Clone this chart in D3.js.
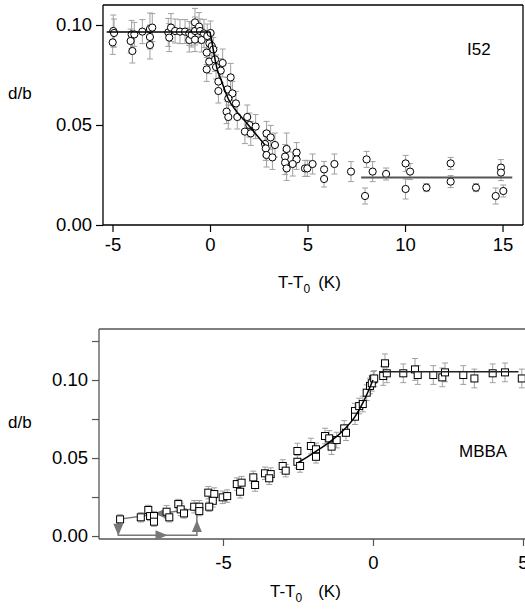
<!DOCTYPE html>
<html><head><meta charset="utf-8">
<script src="https://cdn.jsdelivr.net/npm/d3@7"></script>
<style>
body{margin:0;background:#fff;overflow:hidden}
svg{display:block}
text{font-family:"Liberation Sans",Arial,Helvetica,sans-serif;fill:#000}
</style>
</head><body>
<svg id="chart" width="525" height="610"></svg>
<script>
// ---------- Panel 1: I52 ----------
const topT = [-4.96,-4.92,-4.99,-4.02,-3.88,-4.07,-3.98,-3.47,-3.08,-2.96,-3.08,-3.08,-2.14,-2.0,-2.09,-1.79,-1.54,-1.28,-1.06,-1.06,-0.94,-0.77,-0.77,-0.77,-0.56,-0.51,-0.43,
  -0.31,-0.14,0.03,-0.03,0.09,-0.17,0.17,-0.04,-0.17,0.26,0.31,0.65,0.55,0.43,0.43,1.06,0.89,1.15,0.94,1.33,0.85,0.94,1.4,1.91,2.02,2.34,1.79,2.09,2.9,3.11,3.33,2.82,2.86,2.9,3.2,3.93,3.85,3.85,3.93,4.44,4.44,4.24,4.87,4.99,5.26,
  5.85,5.85,6.38,7.23,7.95,8.03,8.34,9.03,10.03,10.03,10.26,11.1,12.34,12.34,13.64,14.65,14.92,14.92,15.04];
const topD = [0.097,0.096,0.0913,0.0953,0.0953,0.092,0.087,0.0967,0.098,0.0987,0.094,0.090,0.0963,0.0987,0.0937,0.097,0.0967,0.0967,0.0958,0.0925,0.095,0.1013,0.097,0.0927,0.0992,0.097,0.0925,
  0.0958,0.0945,0.096,0.0908,0.0895,0.0862,0.0878,0.0817,0.0778,0.0828,0.079,0.081,0.0772,0.0717,0.067,0.0738,0.0678,0.0658,0.0633,0.0608,0.0567,0.054,0.054,0.054,0.050,0.0492,0.0467,0.0458,0.0458,0.0438,0.040,0.0405,0.0383,0.035,0.0338,0.038,0.0342,0.0312,0.0283,0.0362,0.0328,0.0305,0.0283,0.0283,0.0305,
  0.0278,0.023,0.0305,0.0267,0.0145,0.0328,0.0267,0.0255,0.0308,0.018,0.0267,0.0187,0.0308,0.0217,0.0187,0.0145,0.0287,0.0262,0.017];
const topErr = [0.008,0.007,0.006,0.007,0.006,0.006,0.006,0.006,0.008,0.007,0.006,0.007,0.007,0.007,0.007,0.006,0.006,0.006,0.006,0.006,0.006,0.007,0.007,0.006,0.007,0.006,0.006,
  0.007,0.006,0.006,0.006,0.006,0.006,0.006,0.006,0.006,0.006,0.006,0.007,0.006,0.006,0.006,0.007,0.006,0.006,0.006,0.006,0.006,0.006,0.006,0.006,0.006,0.006,0.006,0.006,0.006,0.006,0.006,0.006,0.006,0.006,0.006,0.008,0.006,0.006,0.006,0.005,0.005,0.006,0.004,0.004,0.005,
  0.004,0.004,0.005,0.005,0.004,0.004,0.005,0.003,0.004,0.005,0.004,0.002,0.003,0.003,0.002,0.004,0.004,0.004,0.003];
// fit lines
const topFlatT = [-5.3, 0.0];
const topFlatD = [0.0965, 0.0965];
const topFitT = [0.0,0.17,0.34,0.6,0.94,1.37,1.88,2.39,2.82];
const topFitD = [0.0967,0.0875,0.079,0.0717,0.063,0.0567,0.051,0.045,0.040];
const topTailT = [7.75, 15.5];
const topTailD = [0.0237, 0.0237];
const topXTicks = [-5,0,5,10,15];
const topYTicks = [0,0.05,0.10];

// ---------- Panel 2: MBBA ----------
const botT = [-8.43,-7.74,-7.49,-7.43,-7.3,-7.3,-6.88,-6.79,-6.49,-6.41,-6.3,-5.96,-5.79,-5.79,-5.49,-5.29,-5.34,-5.46,-5.01,-4.86,-4.54,-4.38,-4.43,
  -3.99,-3.93,-3.6,-3.41,-3.46,-3.01,-2.91,-2.52,-2.52,-2.43,-2.07,-1.9,-1.9,-1.6,-1.46,-1.38,-1.21,-0.96,-0.9,-0.6,-0.46,-0.6,-0.34,-0.21,-0.1,0.01,
  -0.04,0.04,0.34,0.4,0.46,1.01,1.4,1.49,2.01,2.31,2.4,3.01,3.38,3.99,4.4,4.96];
const botD = [0.0107,0.012,0.0167,0.0128,0.0128,0.0092,0.0156,0.012,0.0205,0.0171,0.0145,0.0188,0.0188,0.016,0.0278,0.0269,0.0226,0.0188,0.0248,0.0256,0.0333,0.0342,0.0284,
  0.0376,0.0327,0.0402,0.0397,0.037,0.0449,0.0419,0.0545,0.0476,0.0449,0.0577,0.0556,0.0508,0.0641,0.0626,0.0573,0.0615,0.069,0.0662,0.0801,0.0833,0.0765,0.0846,0.0919,0.0962,0.1004,
  0.0979,0.101,0.1026,0.1107,0.1043,0.1043,0.1068,0.1032,0.1032,0.1017,0.1049,0.1032,0.101,0.1043,0.1049,0.101];
const botErr = [0.003,0.003,0.003,0.003,0.003,0.003,0.004,0.003,0.003,0.004,0.003,0.004,0.004,0.003,0.004,0.004,0.004,0.003,0.004,0.004,0.004,0.004,0.004,
  0.004,0.004,0.004,0.004,0.004,0.004,0.004,0.005,0.004,0.004,0.005,0.004,0.004,0.005,0.005,0.005,0.005,0.005,0.005,0.005,0.005,0.005,0.005,0.005,0.005,0.005,
  0.005,0.005,0.006,0.006,0.006,0.006,0.007,0.006,0.006,0.006,0.006,0.006,0.006,0.006,0.006,0.006];
const botFlatT = [0.2, 4.85];
const botFlatD = [0.1053, 0.1053];
const botFitT = [-2.5,-2.0,-1.5,-1.0,-0.6,-0.3,0.0];
const botFitD = [0.047,0.053,0.0595,0.0675,0.0765,0.0868,0.100];
// hysteresis arrows
const loopT = [-5.87,-8.49,-8.49,-5.87,-5.87];
const loopD = [0.0177,0.0107,0.0005,0.0005,0.0177];
const arrowT = [-7.1,-8.49,-7.05,-5.87];
const arrowD = [0.0144,0.0040,0.0005,0.0065];
const arrowDir = [180,90,0,-90];
const botXTicks = [-5,0,5];
const botYTicks = [0,0.025,0.05,0.075,0.10,0.125];
const botYLabels = [0,0.05,0.10];

const svg = d3.select("#chart");
const FS = 18.5;

function panel(cfg){
  const g = svg.append("g");
  const x = d3.scaleLinear().domain(cfg.xDom).range(cfg.xRange);
  const y = d3.scaleLinear().domain(cfg.yDom).range(cfg.yRange);
  const left = cfg.xRange[0], right = cfg.xRange[1];
  const topY = cfg.yRange[1];

  const ya = d3.axisLeft(y).tickValues(cfg.yTicks).tickSize(7).tickPadding(4)
     .tickFormat(v => cfg.yLabels.some(l=>Math.abs(l-v)<1e-9) ? v.toFixed(2) : "");
  const yg = g.append("g").attr("transform",`translate(${left},0)`).call(ya);
  yg.select(".domain").remove();
  yg.selectAll("line").attr("stroke",cfg.frame).attr("stroke-width",1.2);
  yg.selectAll("text").style("font-size",FS+"px").attr("fill","#000");

  const xa = d3.axisBottom(x).tickValues(cfg.xTicks).tickSize(7).tickPadding(cfg.xPad).tickFormat(v => String(v));
  const xg = g.append("g").attr("transform",`translate(0,${cfg.axisY})`).call(xa);
  xg.select(".domain").remove();
  xg.selectAll("line").attr("stroke",cfg.frame).attr("stroke-width",1.2);
  xg.selectAll("text").style("font-size",FS+"px").attr("fill","#000");

  const fr = g.append("g").attr("fill","none").attr("stroke",cfg.frame).attr("stroke-width",1.3);
  fr.append("line").attr("x1",left).attr("x2",left).attr("y1",topY).attr("y2",cfg.axisY);
  fr.append("line").attr("x1",left).attr("x2",cfg.frameRight).attr("y1",topY).attr("y2",topY);
  fr.append("line").attr("x1",left).attr("x2",cfg.frameRight).attr("y1",cfg.axisY).attr("y2",cfg.axisY);
  if(cfg.rightBorder) fr.append("line").attr("x1",right).attr("x2",right).attr("y1",topY).attr("y2",cfg.axisY);

  const eb = g.append("g").attr("stroke","#a0a0a0").attr("stroke-width",1).attr("fill","none");
  cfg.T.forEach((t,i)=>{
    const cx = x(t), y1 = y(cfg.D[i]+cfg.E[i]), y2 = y(cfg.D[i]-cfg.E[i]);
    eb.append("line").attr("x1",cx).attr("x2",cx).attr("y1",y1).attr("y2",y2);
    eb.append("line").attr("x1",cx-3).attr("x2",cx+3).attr("y1",y1).attr("y2",y1);
    eb.append("line").attr("x1",cx-3).attr("x2",cx+3).attr("y1",y2).attr("y2",y2);
  });
  return {g,x,y};
}

function xTitle(xs, yb, gap){
  const t = svg.append("text").attr("x",xs).attr("y",yb).style("font-size","17px");
  t.append("tspan").text("T-T");
  t.append("tspan").attr("dy",5).style("font-size","12px").text("0");
  t.append("tspan").attr("dy",-5).attr("dx",gap).text("(K)");
}

// ---- top panel ----
const P1 = panel({xDom:[-5.487,16.05], xRange:[103,523], yDom:[0,0.11], yRange:[225,5],
  axisY:225, frameRight:523, rightBorder:true, frame:"#000", xTicks:topXTicks, xPad:6,
  yTicks:topYTicks, yLabels:topYTicks, T:topT, D:topD, E:topErr});
const lineGen1 = d3.line().x(d=>P1.x(d[0])).y(d=>P1.y(d[1]));
P1.g.append("g").selectAll("circle").data(topT.map((t,i)=>[t,topD[i]])).join("circle")
  .attr("cx",d=>P1.x(d[0])).attr("cy",d=>P1.y(d[1])).attr("r",3.6)
  .attr("fill","#fff").attr("stroke","#000").attr("stroke-width",1);
P1.g.append("path").datum(topFlatT.map((t,i)=>[t,topFlatD[i]])).attr("d",lineGen1)
  .attr("fill","none").attr("stroke","#000").attr("stroke-width",1.3);
P1.g.append("path").datum(topFitT.map((t,i)=>[t,topFitD[i]])).attr("d",d3.line().x(d=>P1.x(d[0])).y(d=>P1.y(d[1])).curve(d3.curveMonotoneX))
  .attr("fill","none").attr("stroke","#000").attr("stroke-width",1.5);
P1.g.append("path").datum(topTailT.map((t,i)=>[t,topTailD[i]])).attr("d",lineGen1)
  .attr("fill","none").attr("stroke","#555").attr("stroke-width",2);
svg.append("text").attr("x",467).attr("y",55).style("font-size","17px").text("I52");
svg.append("text").attr("x",8).attr("y",99).style("font-size","17px").text("d/b");
xTitle(278, 288, 8);

// ---- bottom panel ----
const P2 = panel({xDom:[-9.133,5.067], xRange:[99,525], yDom:[-0.0019,0.1327], yRange:[539,329],
  axisY:539, frameRight:530, rightBorder:false, frame:"#555", xTicks:botXTicks, xPad:10,
  yTicks:botYTicks, yLabels:botYLabels, T:botT, D:botD, E:botErr});
const lineGen2 = d3.line().x(d=>P2.x(d[0])).y(d=>P2.y(d[1]));
const ag = P2.g.append("g");
ag.append("path").datum(loopT.map((t,i)=>[t,loopD[i]])).attr("d",lineGen2)
  .attr("fill","none").attr("stroke","#777").attr("stroke-width",1.5);
ag.selectAll("path.ah").data(arrowT.map((t,i)=>[t,arrowD[i],arrowDir[i]])).join("path").attr("class","ah")
  .attr("d","M6,0 L-6,-5 L-6,5 Z").attr("fill","#777")
  .attr("transform",d=>`translate(${P2.x(d[0])},${P2.y(d[1])}) rotate(${d[2]})`);
P2.g.append("g").selectAll("rect").data(botT.map((t,i)=>[t,botD[i]])).join("rect")
  .attr("x",d=>P2.x(d[0])-3.5).attr("y",d=>P2.y(d[1])-3.5).attr("width",7).attr("height",7)
  .attr("fill","#fff").attr("stroke","#000").attr("stroke-width",1);
P2.g.append("path").datum(botFlatT.map((t,i)=>[t,botFlatD[i]])).attr("d",lineGen2)
  .attr("fill","none").attr("stroke","#222").attr("stroke-width",1.3);
P2.g.append("path").datum(botFitT.map((t,i)=>[t,botFitD[i]])).attr("d",d3.line().x(d=>P2.x(d[0])).y(d=>P2.y(d[1])).curve(d3.curveMonotoneX))
  .attr("fill","none").attr("stroke","#000").attr("stroke-width",1.5);
svg.append("text").attr("x",459).attr("y",457).style("font-size","17px").text("MBBA");
svg.append("text").attr("x",8).attr("y",428).style("font-size","17px").text("d/b");
xTitle(270, 597, 16);
</script>
</body></html>
